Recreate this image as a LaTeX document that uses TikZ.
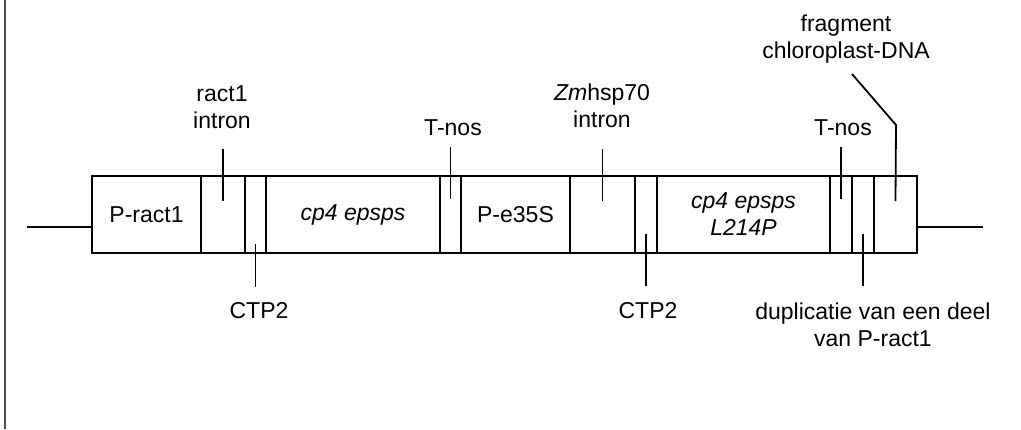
\documentclass[tikz,border=0pt]{standalone}
\usepackage{fontspec}
\setmainfont{Liberation Sans}
\begin{document}
\begin{tikzpicture}[x=1pt,y=-1pt,line width=1.8pt,
  txt/.style={font=\fontsize{23}{27}\selectfont},
  seg/.style={txt,draw,rectangle,minimum height=77pt,inner sep=0pt,align=center},
  lab/.style={txt,align=center,inner sep=0pt}]
\useasboundingbox (0,0) rectangle (1021,429);
\draw[black!70,line width=1.8pt] (5,0) -- (5,429);
% segments
\node[seg,minimum width=109pt] (s1) at (146.5,214.5) {P-ract1};
\node[seg,minimum width=44pt] (s2) at (223,214.5) {};
\node[seg,minimum width=21pt] (s3) at (255.5,214.5) {};
\node[seg,minimum width=174pt] (s4) at (353,214.5) {\textit{cp4 epsps}};
\node[seg,minimum width=21pt] (s5) at (450.5,214.5) {};
\node[seg,minimum width=109pt] (s6) at (515.5,214.5) {P-e35S};
\node[seg,minimum width=65pt] (s7) at (602.5,214.5) {};
\node[seg,minimum width=22pt] (s8) at (646,214.5) {};
\node[seg,minimum width=173pt] (s9) at (743.5,214.5) {\textit{cp4 epsps}\\\textit{L214P}};
\node[seg,minimum width=22pt] (s10) at (841,214.5) {};
\node[seg,minimum width=22pt] (s11) at (863,214.5) {};
\node[seg,minimum width=43pt] (s12) at (895.5,214.5) {};
% flanking lines
\coordinate (L) at (27,227);
\coordinate (R) at (983,227);
\draw (L) -- (L -| s1.west);
\draw (s12.east |- R) -- (R);
% labels
\node[lab] (l1) at (222,107) {ract1\\intron};
\node[lab,anchor=base] (l2) at (259,318) {CTP2};
\node[lab,anchor=base] (l3) at (453,135) {T-nos};
\node[lab] (l4) at (602,106) {\textit{Zm}hsp70\\intron};
\node[lab,anchor=base] (l5) at (648,318) {CTP2};
\node[lab,anchor=base] (l6) at (843,135) {T-nos};
\node[lab] (l7) at (873,325) {duplicatie van een deel\\van P-ract1};
\node[lab] (l8) at (846,39.5) {fragment\\chloroplast-DNA};
% ticks
\draw ([yshift=26pt]s2.north) -- ([yshift=-26pt]s2.north);
\draw ([yshift=10pt]s3.south) -- ([yshift=-33pt]s3.south);
\draw ([yshift=28pt]s5.north) -- ([yshift=-24pt]s5.north);
\draw ([yshift=26pt]s7.north) -- ([yshift=-26pt]s7.north);
\draw ([yshift=20pt]s8.south) -- ([yshift=-32pt]s8.south);
\draw ([yshift=28pt]s10.north) -- ([yshift=-24pt]s10.north);
\draw ([yshift=20pt]s11.south) -- ([yshift=-32pt]s11.south);
\coordinate (fk) at (896,125);
\coordinate (fe) at (852,74);
\draw ([yshift=-26pt]s12.north) -- (fk) -- (fe);
\end{tikzpicture}
\end{document}
